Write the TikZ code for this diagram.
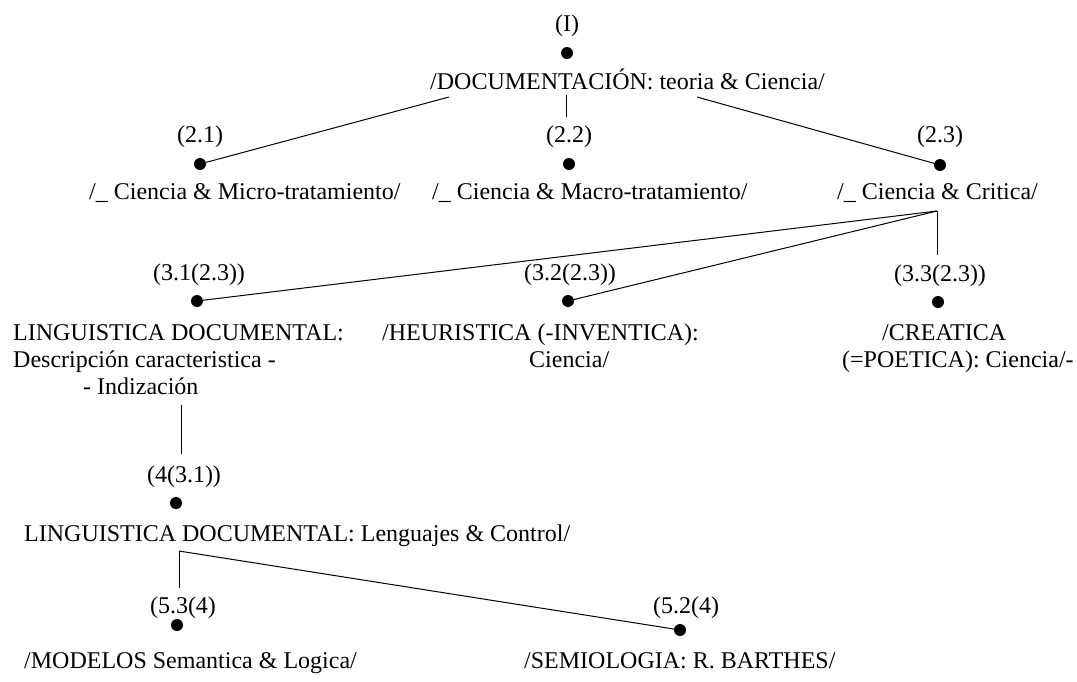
\documentclass[tikz,border=0pt]{standalone}
\usepackage{fontspec}
\setmainfont{Liberation Serif}
\usetikzlibrary{positioning}
\tikzset{
    % filled dot marking each entry
    hub/.style={circle, fill=black, inner sep=0pt, minimum size=12pt},
    % numbering written above the dots
    tag/.style={font=\fontsize{24}{26.7}\selectfont, inner sep=0pt},
    % entry text under the dots, placed by its last baseline
    term/.style={font=\fontsize{24}{26.7}\selectfont, inner sep=0pt,
        anchor=base west, align=left},
    % plain connecting lines
    link/.style={line width=1pt},
}

\begin{document}
\begin{tikzpicture}[x=1pt, y=-1pt]
    \useasboundingbox (0,0) rectangle (1077,681);

    % --- level I ---
    \node[tag] (tI) at (567,26) {(I)};
    \node[hub] (dI) at (567,53) {};
    \node[term] (doc) at (430,89) {/DOCUMENTACIÓN: teoria \& Ciencia/};

    % --- level 2 ---
    \node[tag] (t21) at (200,137) {(2.1)};
    \node[tag] (t22) at (569,137) {(2.2)};
    \node[tag] (t23) at (940,137) {(2.3)};
    \node[hub] (d21) at (200,164) {};
    \node[hub] (d22) at (569,164) {};
    \node[hub] (d23) at (940,165) {};
    \node[term] (micro) at (89,199)  {/\_ Ciencia \& Micro-tratamiento/};
    \node[term] (macro) at (432,199) {/\_ Ciencia \& Macro-tratamiento/};
    \node[term] (crit)  at (837,199) {/\_ Ciencia \& Critica/};

    % level I -> level 2
    \coordinate (docA) at (449,97);
    \coordinate (docB) at (566,95);
    \coordinate (docBend) at (566,117);
    \coordinate (docC) at (697,97);
    \draw[link] (docA) -- (d21);
    \draw[link] (docB) -- (docBend);
    \draw[link] (docC) -- (d23);

    % --- level 3 ---
    \node[tag] (t31) at (199,275) {(3.1(2.3))};
    \node[tag] (t32) at (570,275) {(3.2(2.3))};
    \node[tag] (t33) at (940,276) {(3.3(2.3))};
    \node[hub] (d31) at (197,301) {};
    \node[hub] (d32) at (568,301) {};
    \node[hub] (d33) at (938,302) {};
    \node[term] (ling) at (13,394)
        {LINGUISTICA DOCUMENTAL:\\Descripción caracteristica -\\\hspace*{70pt}- Indización};
    \node[term] (heur) at (382,367.3)
        {/HEURISTICA (-INVENTICA):\\\hspace*{147pt}Ciencia/};
    \node[term] (crea) at (842,367.3)
        {\hspace*{40pt}/CREATICA\\(=POETICA): Ciencia/-};

    % level 2.3 -> level 3
    \coordinate (critF) at (937,211);
    \coordinate (critV) at (937,255);
    \draw[link] (critF) -- (d31);
    \draw[link] (critF) -- (d32);
    \draw[link] (critF) -- (critV);

    % --- level 4 ---
    \coordinate (lingF) at (181,405);
    \coordinate (lingV) at (181,454);
    \draw[link] (lingF) -- (lingV);
    \node[tag] (t4) at (184,477) {(4(3.1))};
    \node[hub] (d4) at (176,503) {};
    \node[term] (lang) at (24,541) {LINGUISTICA DOCUMENTAL: Lenguajes \& Control/};

    % --- level 5 ---
    \node[tag] (t53) at (183,608) {(5.3(4)};
    \node[tag] (t52) at (686,608) {(5.2(4)};
    \node[hub] (d53) at (177,625) {};
    \node[hub] (d52) at (680,630) {};
    \node[term] (model) at (24,668) {/MODELOS Semantica \& Logica/};
    \node[term] (semio) at (524,668) {/SEMIOLOGIA: R. BARTHES/};

    % level 4 -> level 5
    \coordinate (langF) at (179,551);
    \coordinate (langV) at (179,588);
    \draw[link] (langF) -- (langV);
    \draw[link] (langF) -- (d52);

\end{tikzpicture}
\end{document}
